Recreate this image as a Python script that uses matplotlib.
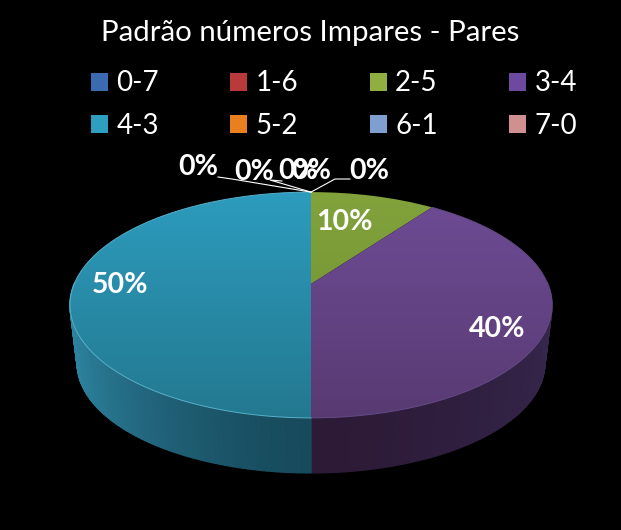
import numpy as np
import matplotlib
matplotlib.use("Agg")
import matplotlib.pyplot as plt
from matplotlib.transforms import Transform

# distribution of odd / even numbers
categories = ['0-7', '1-6', '2-5', '3-4', '4-3', '5-2', '6-1', '7-0']
shares = [0, 0, 10, 40, 50, 0, 0, 0]
colors = ['#3a6ab0', '#b83a3a', '#8fb040', '#6d4aa0', '#2f9fc0', '#e8801f', '#7f9fd0', '#d09090']
grad_top = ['#3a6ab0', '#b83a3a', '#82a23c', '#6f4c96', '#2d9cbe', '#e8801f', '#7f9fd0', '#d09090']
grad_bottom = ['#3a6ab0', '#b83a3a', '#6f8f31', '#583a72', '#23788f', '#e8801f', '#7f9fd0', '#d09090']
rim_colors = ['none', 'none', 'none', '#644a86', '#57b0ca', 'none', 'none', 'none']
wall_edge = ['#000000', '#000000', '#000000', '#35264c', '#2f88a5', '#000000', '#000000', '#000000']
wall_mid = ['#000000', '#000000', '#000000', '#2c1a36', '#174a5c', '#000000', '#000000', '#000000']

# where the data labels sit, same order as categories
label_pos = [(311, 171), (369, 171), (344, 222), (497, 329), (120, 285), (198, 167), (254, 172), (298, 171)]
leaders = {1: [(350, 179), (335, 179)], 5: [(218, 177), (232, 179)], 6: [(282, 181), (270, 180)]}

# perspective of the pie top, fitted on the picture
CX, CY = 311, 284
RX, RY, K = 236.8, 109.0, 0.186
DROP, SHRINK = 59, 0.97


class Perspective(Transform):
    input_dims = 2
    output_dims = 2

    def transform_non_affine(self, values):
        values = np.asarray(values)
        w = 1 + K * values[:, 1]
        return np.column_stack([CX + RX * values[:, 0] / w, CY - RY * values[:, 1] / w])


persp = Perspective()

fig = plt.figure(figsize=(6.21, 5.30), dpi=100, facecolor='black')
ax = fig.add_axes([0, 0, 1, 1])
ax.set_facecolor('black')
plt.rcParams['font.family'] = 'Lato'

wedges, _ = ax.pie(shares, colors=colors, startangle=90, counterclock=False)
ax.set_aspect('auto')
for w in wedges:
    w.set_transform(persp + ax.transData)
    w.set_zorder(3)

# side wall, one thin strip per step of angle
for i, w in enumerate(wedges):
    if shares[i] == 0:
        continue
    th = np.radians(np.arange(w.theta1, w.theta2 + 1, 1.0))
    th = th[np.sin(th) < 0.02]
    for a, b in zip(th[:-1], th[1:]):
        unit = np.array([[np.cos(a), np.sin(a)], [np.cos(b), np.sin(b)]])
        top = persp.transform(unit)
        low = top.copy()
        low[:, 0] = CX + (low[:, 0] - CX) * SHRINK
        low[:, 1] = CY + (low[:, 1] - CY) * SHRINK + DROP
        t = abs(np.cos((a + b) / 2))
        c0 = np.array(matplotlib.colors.to_rgb(wall_mid[i]))
        c1 = np.array(matplotlib.colors.to_rgb(wall_edge[i]))
        ax.fill([top[0, 0], top[1, 0], low[1, 0], low[0, 0]],
                [top[0, 1], top[1, 1], low[1, 1], low[0, 1]],
                color=c0 + (c1 - c0) * t ** 1.5, lw=1, zorder=1)

# legend takes the flat wedge colours, so make it before the gradients go on
# matplotlib fills columns first, the picture reads row by row
order = [0, 4, 1, 5, 2, 6, 3, 7]
ax.legend([wedges[i] for i in order], [categories[i] for i in order], ncol=4,
          frameon=False, loc='upper left', bbox_to_anchor=(0.1465, 0.867),
          fontsize=20, labelcolor='white', handlelength=0.62, handleheight=0.62,
          handletextpad=0.3, columnspacing=2.56, labelspacing=0.6,
          borderpad=0, borderaxespad=0)

# vertical gradient on each visible slice, thin rim only on the round edge
for i, w in enumerate(wedges):
    if shares[i] == 0:
        continue
    c0 = np.array(matplotlib.colors.to_rgb(grad_top[i]))
    c1 = np.array(matplotlib.colors.to_rgb(grad_bottom[i]))
    ramp = np.linspace(0, 1, 256)[:, None, None]
    img = c0[None, None, :] + (c1 - c0)[None, None, :] * ramp
    im = ax.imshow(img, extent=(60, 560, 420, 190), aspect='auto', zorder=2)
    im.set_clip_path(w)
    w.set_facecolor('none')
    w.set_edgecolor('none')
    if rim_colors[i] != 'none':
        th = np.radians(np.linspace(w.theta1, w.theta2, 200))
        rim = persp.transform(np.column_stack([np.cos(th), np.sin(th)]))
        ax.plot(rim[:, 0], rim[:, 1], color=rim_colors[i], lw=0.7, zorder=3)

ax.set_xlim(0, 621)
ax.set_ylim(530, 0)
ax.axis('off')

# leader lines run to the top of the pie, where the empty slices are
apex = persp.transform(np.array([[0.0, 1.0]]))[0]
for i, pts in leaders.items():
    xs = [p[0] for p in pts] + [apex[0]]
    ys = [p[1] for p in pts] + [apex[1]]
    ax.plot(xs, ys, color='white', lw=0.8, zorder=4)

for i, (x, y) in enumerate(label_pos):
    ax.text(x, y, '%d%%' % shares[i], color='white', fontsize=20.5, fontweight='bold',
            ha='center', va='center', zorder=5)

ax.text(310, 32.5, 'Padrão números Impares - Pares', color='white', fontsize=21.2,
        ha='center', va='center', zorder=5)

fig.savefig('out.png', dpi=100, facecolor='black')
